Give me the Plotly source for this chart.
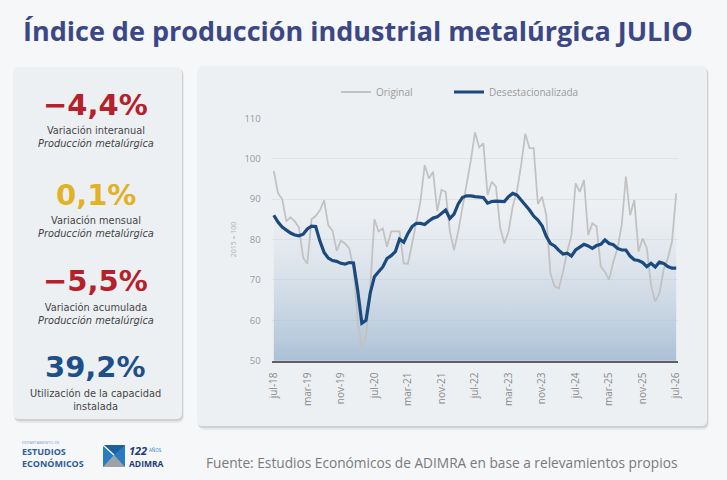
import plotly.graph_objects as go

# ---------------- data ----------------
month_names = ["ene", "feb", "mar", "abr", "may", "jun", "jul", "ago", "sep", "oct", "nov", "dic"]
start_year, start_month, n_months = 2018, 7, 97
categories = []
for k in range(n_months):
    m = (start_month - 1 + k) % 12
    y = start_year + (start_month - 1 + k) // 12
    categories.append(f"{month_names[m]}-{str(y)[2:]}")

original = [
    97.0, 91.5, 90.0, 84.5, 85.5, 84.5, 83.0, 75.5, 74.0, 85.0,
    85.8, 87.2, 89.7, 83.5, 82.2, 77.2, 79.7, 79.0, 77.8, 73.0,
    60.0, 53.0, 56.0, 68.0, 85.0, 82.0, 82.7, 78.2, 82.0, 82.0,
    82.0, 74.1, 74.0, 79.0, 84.0, 89.5, 98.4, 95.1, 96.8, 87.0,
    92.3, 91.8, 82.0, 77.4, 82.0, 88.0, 93.0, 99.5, 106.5, 102.8,
    103.8, 91.0, 94.3, 93.1, 83.0, 79.0, 82.0, 88.2, 92.0, 98.4,
    106.2, 102.6, 102.6, 88.8, 90.6, 86.0, 71.5, 68.4, 67.9, 72.0,
    77.0, 81.0, 93.9, 91.8, 94.7, 81.1, 84.0, 83.2, 73.3, 72.0,
    70.0, 74.5, 77.8, 83.6, 95.6, 86.0, 89.8, 77.0, 80.3, 77.8,
    68.7, 64.6, 66.7, 72.5, 75.3, 79.5, 91.4,
]
desestacionalizada = [
    86.0, 84.3, 83.1, 82.3, 81.6, 81.1, 80.9, 81.3, 82.6, 83.3,
    83.2, 79.6, 76.8, 75.4, 74.8, 74.6, 74.1, 73.9, 74.3, 74.2,
    67.5, 59.3, 60.0, 66.7, 70.8, 72.0, 73.2, 75.3, 76.0, 77.0,
    80.1, 79.3, 81.5, 83.2, 84.0, 84.0, 83.7, 84.6, 85.3, 85.6,
    86.5, 87.3, 85.2, 86.3, 88.8, 90.4, 90.8, 90.8, 90.6, 90.4,
    90.4, 89.0, 89.4, 89.5, 89.5, 89.4, 90.6, 91.4, 91.0, 89.8,
    88.5, 87.3, 85.8, 84.8, 83.4, 80.8, 79.0, 78.4, 77.3, 76.4,
    76.6, 75.9, 77.4, 78.2, 78.8, 78.4, 77.8, 78.5, 78.8, 79.9,
    79.0, 78.7, 77.8, 77.4, 77.4, 75.9, 75.0, 74.8, 74.3, 73.3,
    74.1, 73.2, 74.4, 74.1, 73.3, 72.9, 72.9,
]
tick_labels = ["jul-18", "mar-19", "nov-19", "jul-20", "mar-21", "nov-21", "jul-22",
               "mar-23", "nov-23", "jul-24", "mar-25", "nov-25", "jul-26"]
y_ticks = [50, 60, 70, 80, 90, 100, 110]

kpi_values = ["−4,4%", "0,1%", "−5,5%", "39,2%"]
kpi_labels = ["Variación interanual", "Variación mensual", "Variación acumulada", "Utilización de la capacidad"]
kpi_sublabels = ["Producción metalúrgica", "Producción metalúrgica", "Producción metalúrgica", "instalada"]

# ---------------- styling ----------------
W, H = 727, 480
FONT = "Open Sans"
CARD_FONT = "DejaVu Sans"
PAGE_BG = "#f6f7f9"
CARD_BG = "#edf0f3"
kpi_colors = ["#b5212b", "#e2b226", "#b5212b", "#1d4f8b"]
kpi_sub_italic = [True, True, True, False]

def px(x):
    return x / W

def py(y):
    return 1 - y / H

def rrect(x0, y0, x1, y1, r):
    pts = [
        ("M", [(x0 + r, y0)]), ("L", [(x1 - r, y0)]), ("Q", [(x1, y0), (x1, y0 + r)]),
        ("L", [(x1, y1 - r)]), ("Q", [(x1, y1), (x1 - r, y1)]), ("L", [(x0 + r, y1)]),
        ("Q", [(x0, y1), (x0, y1 - r)]), ("L", [(x0, y0 + r)]), ("Q", [(x0, y0), (x0 + r, y0)]),
    ]
    s = ""
    for cmd, pp in pts:
        s += cmd + " " + " ".join(f"{px(a):.5f},{py(b):.5f}" for a, b in pp) + " "
    return s + "Z"

fig = go.Figure()

# background gradient under the plot
fig.add_trace(go.Scatter(
    x=categories, y=[max(y_ticks)] * len(categories), mode="lines",
    line=dict(width=0), fill="tozeroy",
    fillgradient=dict(type="vertical", start=50, stop=88,
                      colorscale=[[0, "rgba(155,181,207,0.8)"], [1, "rgba(200,212,225,0)"]]),
    hoverinfo="skip", showlegend=False,
))
fig.add_trace(go.Scatter(
    x=categories, y=original, mode="lines", name="Original", legend="legend",
    line=dict(color="#c2c2c2", width=1.8),
))
fig.add_trace(go.Scatter(
    x=categories, y=desestacionalizada, mode="lines", name="Desestacionalizada", legend="legend2",
    line=dict(color="#1b4a7f", width=3.2),
))

shapes = []
# card shadows and cards
for (x0, y0, x1, y1) in [(13, 67, 182, 419), (197, 66, 707, 426)]:
    shapes.append(dict(type="path", path=rrect(x0 + 1, y0 + 2, x1 + 2, y1 + 4, 7),
                       fillcolor="rgba(0,0,0,0.06)", line=dict(width=0), layer="below",
                       xref="paper", yref="paper"))
    shapes.append(dict(type="path", path=rrect(x0 + 1, y0 + 1, x1 + 1, y1 + 2, 6),
                       fillcolor="rgba(0,0,0,0.10)", line=dict(width=0), layer="below",
                       xref="paper", yref="paper"))
    shapes.append(dict(type="path", path=rrect(x0, y0, x1, y1, 6),
                       fillcolor=CARD_BG, line=dict(width=0), layer="below",
                       xref="paper", yref="paper"))
# ADIMRA icon
shapes.append(dict(type="path", path=rrect(103, 445, 125, 467, 0.5), fillcolor="#2a7cc2",
                   line=dict(width=0), xref="paper", yref="paper"))
shapes.append(dict(type="path",
                   path=f"M {px(103)},{py(467)} L {px(114)},{py(455)} L {px(125)},{py(467)} Z",
                   fillcolor="#9ea3a9", line=dict(width=0), xref="paper", yref="paper"))
shapes.append(dict(type="path",
                   path=f"M {px(103)},{py(445)} L {px(114)},{py(455)} L {px(125)},{py(445)} Z",
                   fillcolor="#1d5f9f", line=dict(width=0), xref="paper", yref="paper"))
shapes.append(dict(type="line", x0=px(103), y0=py(445), x1=px(114), y1=py(455),
                   line=dict(color="white", width=1.2), xref="paper", yref="paper"))

annotations = []
annotations.append(dict(x=px(21), y=py(30), xref="paper", yref="paper", xanchor="left",
                        yanchor="middle", showarrow=False,
                        text="<b>Índice de producción industrial metalúrgica JULIO</b>",
                        font=dict(family=FONT, size=27, color="#3b4786")))

kpi_centers = [105, 195, 281, 367]
for i in range(4):
    cy = kpi_centers[i]
    annotations.append(dict(x=px(96), y=py(cy), xref="paper", yref="paper", xanchor="center",
                            yanchor="middle", showarrow=False, text=f"<b>{kpi_values[i]}</b>",
                            font=dict(family=CARD_FONT, size=29, color=kpi_colors[i])))
    sub = f"<i>{kpi_sublabels[i]}</i>" if kpi_sub_italic[i] else kpi_sublabels[i]
    annotations.append(dict(x=px(96), y=py(cy + 32.5), xref="paper", yref="paper", xanchor="center",
                            yanchor="middle", showarrow=False, text=f"{kpi_labels[i]}<br>{sub}",
                            font=dict(family=CARD_FONT, size=9.8, color="#444")))

annotations.append(dict(x=px(204), y=py(462), xref="paper", yref="paper", xanchor="left",
                        yanchor="middle", showarrow=False,
                        text="Fuente: Estudios Económicos de ADIMRA en base a relevamientos propios",
                        font=dict(family=FONT, size=13.7, color="#7a7a7a")))
# logos text
annotations.append(dict(x=px(20), y=py(442), xref="paper", yref="paper", xanchor="left",
                        yanchor="middle", showarrow=False, text="DEPARTAMENTO DE",
                        font=dict(family=FONT, size=4, color="#7c9cc4")))
annotations.append(dict(x=px(20), y=py(451.5), xref="paper", yref="paper", xanchor="left",
                        yanchor="middle", showarrow=False, text="<b>ESTUDIOS</b>",
                        font=dict(family=FONT, size=9, color="#2d5b9b")))
annotations.append(dict(x=px(20), y=py(463.5), xref="paper", yref="paper", xanchor="left",
                        yanchor="middle", showarrow=False, text="<b>ECONÓMICOS</b>",
                        font=dict(family=FONT, size=9, color="#2d5b9b")))
annotations.append(dict(x=px(127), y=py(450), xref="paper", yref="paper", xanchor="left",
                        yanchor="middle", showarrow=False, text="<b><i>122</i></b>",
                        font=dict(family=FONT, size=11, color="#1f3c78")))
annotations.append(dict(x=px(147), y=py(450), xref="paper", yref="paper", xanchor="left",
                        yanchor="middle", showarrow=False, text="AÑOS",
                        font=dict(family=FONT, size=4.5, color="#2a7cc2")))
annotations.append(dict(x=px(127), y=py(463), xref="paper", yref="paper", xanchor="left",
                        yanchor="middle", showarrow=False, text="<b>ADIMRA</b>",
                        font=dict(family=FONT, size=8.5, color="#1f3c78")))

legend_style = dict(orientation="h", yanchor="middle", xanchor="left", y=py(92),
                    bgcolor="rgba(0,0,0,0)", font=dict(family=FONT, size=10, color="#9a9a9a"),
                    itemwidth=30)

fig.update_layout(
    template="none",
    width=W, height=H,
    margin=dict(l=0, r=0, t=0, b=0),
    paper_bgcolor=PAGE_BG,
    plot_bgcolor="rgba(0,0,0,0)",
    font=dict(family=FONT, color="#888"),
    shapes=shapes,
    annotations=annotations,
    showlegend=True,
    legend=dict(x=px(336), **legend_style),
    legend2=dict(x=px(449), **legend_style),
    xaxis=dict(
        type="category", domain=[px(271.7), px(678.3)], range=[-0.5, len(categories) - 0.5],
        tickmode="array", tickvals=tick_labels, ticktext=tick_labels, tickangle=-90,
        tickfont=dict(family=FONT, size=10, color="#8a8a8a"), ticks="",
        ticklabelstandoff=6, showgrid=False, showline=True, linecolor="#5e6064", linewidth=1.5,
        zeroline=False, automargin=False, fixedrange=True,
    ),
    yaxis=dict(
        domain=[py(360.7), py(118.3)], range=[50, 110], tickvals=y_ticks,
        tickfont=dict(family=FONT, size=9.5, color="#9a9a9a"), ticks="",
        ticklabelstandoff=10, showgrid=True, gridcolor="#dfe3e7", gridwidth=1,
        zeroline=False, showline=False, automargin=False, fixedrange=True,
        title=dict(text="2015 = 100", font=dict(family=FONT, size=7, color="#b0b0b0"), standoff=6),
    ),
)

fig.write_html("out.html", config={"displayModeBar": False},
               post_script="document.body.style.margin='0';")
